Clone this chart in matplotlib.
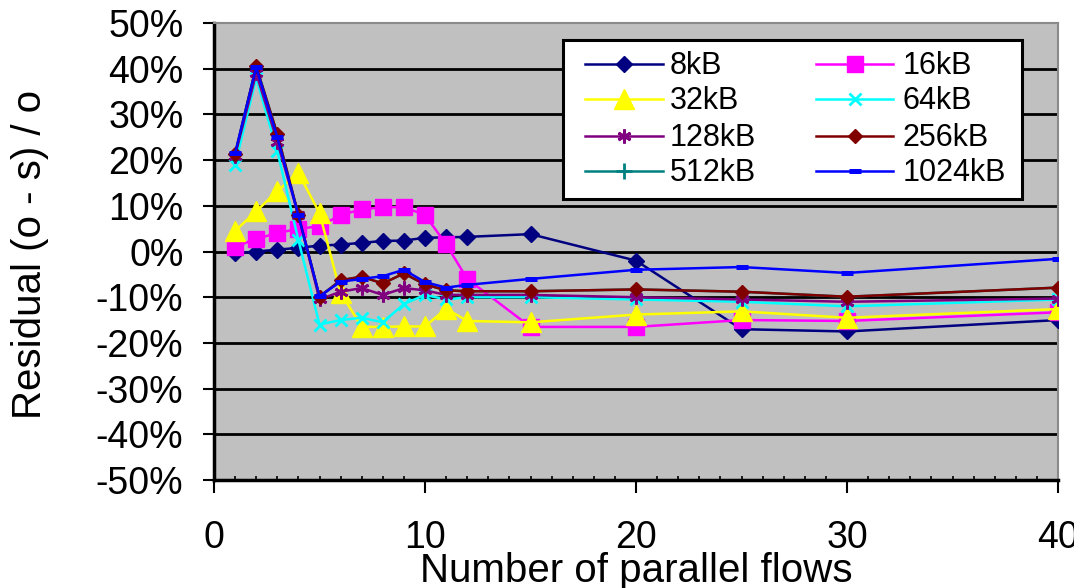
import matplotlib
matplotlib.use("Agg")
import matplotlib.pyplot as plt
from matplotlib.lines import Line2D
from matplotlib.patches import Rectangle
from matplotlib.ticker import MultipleLocator, FixedLocator, FuncFormatter

plt.rcParams['font.family'] = ['Liberation Sans', 'DejaVu Sans']

# Number of parallel flows
flows = [1, 2, 3, 4, 5, 6, 7, 8, 9, 10, 11, 12, 15, 20, 25, 30, 40]

# Residual (o - s) / o in percent, one list per transfer size
res_8kB = [-0.4, 0.0, 0.4, 0.8, 1.3, 1.5, 1.9, 2.3, 2.4, 3.0, 3.1, 3.2, 3.8, -2.0, -17.0, -17.5, -15.0]
res_16kB = [1.0, 2.8, 4.0, 5.0, 5.5, 8.0, 9.2, 9.7, 9.7, 8.0, 1.6, -6.0, -16.5, -16.5, -15.0, -15.2, -13.3]
res_32kB = [4.5, 8.8, 13.2, 17.2, 8.4, -9.0, -16.5, -16.5, -16.4, -16.4, -12.5, -15.2, -15.5, -13.8, -13.1, -14.5, -12.6]
res_64kB = [19.0, 38.0, 22.0, 2.5, -16.0, -15.0, -14.5, -15.5, -11.5, -9.5, -10.5, -10.0, -10.0, -10.5, -11.0, -12.0, -10.5]
res_128kB = [21.0, 39.0, 24.0, 8.0, -10.5, -8.8, -8.0, -9.5, -8.0, -8.5, -9.5, -9.5, -9.5, -10.0, -10.5, -11.0, -10.3]
res_256kB = [21.3, 40.5, 25.7, 8.0, -9.9, -6.3, -5.5, -7.0, -4.8, -7.2, -8.5, -8.7, -8.7, -8.3, -8.8, -9.9, -7.9]
res_512kB = [21.3, 40.5, 25.7, 8.0, -9.9, -6.3, -5.5, -7.0, -4.8, -7.2, -8.5, -8.7, -8.7, -8.3, -8.8, -9.9, -7.9]
res_1024kB = [21.5, 40.3, 25.0, 7.9, -9.8, -6.6, -6.0, -5.4, -4.0, -6.7, -7.9, -7.3, -6.0, -4.0, -3.4, -4.7, -1.6]

series_names = ["8kB", "16kB", "32kB", "64kB", "128kB", "256kB", "512kB", "1024kB"]
series_values = [res_8kB, res_16kB, res_32kB, res_64kB, res_128kB, res_256kB, res_512kB, res_1024kB]

y_ticks = [-50, -40, -30, -20, -10, 0, 10, 20, 30, 40, 50]
x_ticks = [0, 10, 20, 30, 40]

styles = {
    "8kB":    dict(color="#000080", marker="D", ms=8.0, mew=1.0),
    "16kB":   dict(color="#FF00FF", marker="s", ms=11.5, mew=1.0),
    "32kB":   dict(color="#FFFF00", marker="^", ms=14.0, mew=1.0),
    "64kB":   dict(color="#00FFFF", marker="x", ms=9.0, mew=2.0),
    "128kB":  dict(color="#800080", marker=(6, 2, 0), ms=10.0, mew=2.0),
    "256kB":  dict(color="#800000", marker="D", ms=7.6, mew=1.0),
    "512kB":  dict(color="#008080", marker="+", ms=11.0, mew=2.0),
    "1024kB": dict(color="#0000FF", marker="_", ms=8.6, mew=3.6),
}

W, H = 1074, 588


def fpx(x, y):
    """Pixel position (from top-left) to figure fraction."""
    return x / W, 1 - y / H


fig = plt.figure(figsize=(W / 100, H / 100), dpi=100)
fig.patch.set_facecolor("white")
ax = fig.add_axes([214 / W, 1 - 480 / H, 844 / W, 457 / H])
ax.set_facecolor("#C0C0C0")

for v in y_ticks[1:-1]:
    ax.axhline(v, color="black", lw=2.0, zorder=1)

for name, vals in zip(series_names, series_values):
    st = styles[name]
    # 512kB sits underneath the 256kB trace
    z = 2.9 if name == "512kB" else 3
    ms = 8.5 if name == "512kB" else st["ms"]
    ax.plot(flows, vals, color=st["color"], lw=1.8, marker=st["marker"],
            ms=ms, mew=st["mew"], mec=st["color"], mfc=st["color"],
            zorder=z, label=name)

ax.set_xlim(0, 40)
ax.set_ylim(-50, 50)

ax.xaxis.set_major_locator(FixedLocator(x_ticks))
ax.xaxis.set_minor_locator(MultipleLocator(1))
ax.yaxis.set_major_locator(FixedLocator(y_ticks))
ax.yaxis.set_major_formatter(FuncFormatter(lambda v, p: f"{int(v)}%"))

ax.tick_params(axis="x", which="major", direction="out", length=9.5, width=1.5,
               labelsize=27, pad=19, color="black")
ax.tick_params(axis="x", which="minor", direction="in", length=3, width=1.2, color="black")
ax.tick_params(axis="y", which="major", direction="out", length=8, width=1.5,
               labelsize=27, pad=14, color="black")

for side in ("left", "bottom"):
    ax.spines[side].set_color("black")
    ax.spines[side].set_linewidth(2.5)
for side in ("top", "right"):
    ax.spines[side].set_color("#8a8a8a")
    ax.spines[side].set_linewidth(1.5)

fig.text(*fpx(636, 582), "Number of parallel flows", ha="center", va="baseline",
         fontsize=29)
fig.text(*fpx(30, 254), "Residual (o - s) / o", rotation=90,
         ha="center", va="center", fontsize=29)

# Legend box: two columns, four rows
x0, y0 = fpx(563, 199)
x1, y1 = fpx(1022, 40)
fig.add_artist(Rectangle((x0, y0), x1 - x0, y1 - y0, transform=fig.transFigure,
                         facecolor="white", edgecolor="black", lw=2.2, zorder=10))
row_y = [64, 99, 136, 171]
col_x = [(585, 663, 670), (816, 893, 903)]
for i, name in enumerate(series_names):
    row, col = i // 2, i % 2
    xa, xb, xt = col_x[col]
    yy = row_y[row]
    st = styles[name]
    (ax_, ay_), (bx_, by_) = fpx(xa, yy), fpx(xb, yy)
    fig.add_artist(Line2D([ax_, bx_], [ay_, by_], transform=fig.transFigure,
                          color=st["color"], lw=1.8, zorder=11))
    mx, my = fpx((xa + xb) / 2, yy)
    fig.add_artist(Line2D([mx], [my], transform=fig.transFigure, ls="none",
                          marker=st["marker"], ms=st["ms"], mew=st["mew"],
                          mec=st["color"], mfc=st["color"], zorder=12))
    fig.text(*fpx(xt, yy + 10), name, ha="left", va="baseline", fontsize=22,
             zorder=12)

fig.savefig("out.png", dpi=100)
